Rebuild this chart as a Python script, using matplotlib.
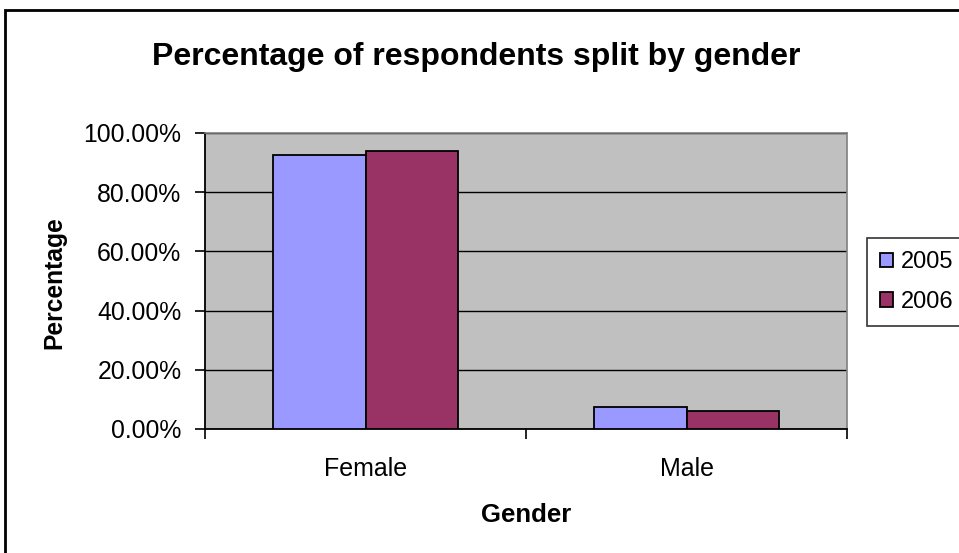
import matplotlib
matplotlib.use("Agg")
import matplotlib.pyplot as plt
import numpy as np
from matplotlib.ticker import FuncFormatter, FixedLocator

plt.rcParams['font.family'] = ['Liberation Sans', 'DejaVu Sans']

categories = ["Female", "Male"]
years = ["2005", "2006"]
values_2005 = [92.5, 7.5]
values_2006 = [94.0, 6.0]
colors = ["#9999FF", "#993366"]

fig = plt.figure(figsize=(9.59, 5.53), dpi=100)
fig.patch.set_facecolor("white")

W, H = 959, 553

# outer chart frame
frame = plt.Rectangle((4.5 / W, -0.01), 1.0, 1 - 10 / H + 0.01,
                      transform=fig.transFigure, fill=False,
                      edgecolor="black", linewidth=2.0)
fig.add_artist(frame)

left, right, top, bottom = 205, 847, 133, 429
ax = fig.add_axes([left / W, 1 - bottom / H, (right - left) / W, (bottom - top) / H])
ax.set_facecolor("#C0C0C0")

x = np.arange(len(categories))
width = 0.287
ax.bar(x - width / 2, values_2005, width, color=colors[0], edgecolor="black",
       linewidth=1.3, label=years[0], zorder=3)
ax.bar(x + width / 2, values_2006, width, color=colors[1], edgecolor="black",
       linewidth=1.3, label=years[1], zorder=3)

ax.set_xlim(-0.5, 1.5)
ax.set_ylim(0, 100)
ax.yaxis.set_major_locator(FixedLocator([0, 20, 40, 60, 80, 100]))
ax.yaxis.set_major_formatter(FuncFormatter(lambda v, p: f"{v:.2f}%"))
ax.grid(axis="y", color="black", linewidth=1.0, zorder=1)

# category boundaries as ticks, labels centered between them
ax.set_xticks([-0.5, 0.5, 1.5])
ax.set_xticklabels([])
ax.set_xticks(x, minor=True)
ax.set_xticklabels(categories, minor=True)
ax.tick_params(axis="x", which="minor", length=0, pad=20, labelsize=18)
ax.tick_params(axis="x", which="major", direction="out", length=7, width=1.2)
ax.tick_params(axis="y", direction="out", length=7, width=1.2, labelsize=17.8, pad=10)

for side in ("top", "right"):
    ax.spines[side].set_color("#808080")
    ax.spines[side].set_linewidth(1.2)
ax.spines["left"].set_linewidth(1.3)
ax.spines["bottom"].set_linewidth(1.3)

fig.text(476 / W, 1 - 57 / H, "Percentage of respondents split by gender",
         ha="center", va="center", fontsize=23, fontweight="bold")
fig.text(54 / W, 1 - 283 / H, "Percentage", rotation=90, ha="center",
         va="center", fontsize=17.7, fontweight="bold")
fig.text(526 / W, 1 - 515 / H, "Gender", ha="center", va="center",
         fontsize=18.5, fontweight="bold")

leg = ax.legend(loc="center left",
                bbox_to_anchor=(867 / W, 1 - 324 / H, 110 / W, 84 / H),
                bbox_transform=fig.transFigure, mode="expand", frameon=True,
                fancybox=False, edgecolor="black", fontsize=17,
                handlelength=0.55, handleheight=0.55, handletextpad=0.35,
                labelspacing=0.75, borderpad=0.55, borderaxespad=0)
leg.get_frame().set_linewidth(1.2)

fig.savefig("out.png", dpi=100, facecolor="white")
